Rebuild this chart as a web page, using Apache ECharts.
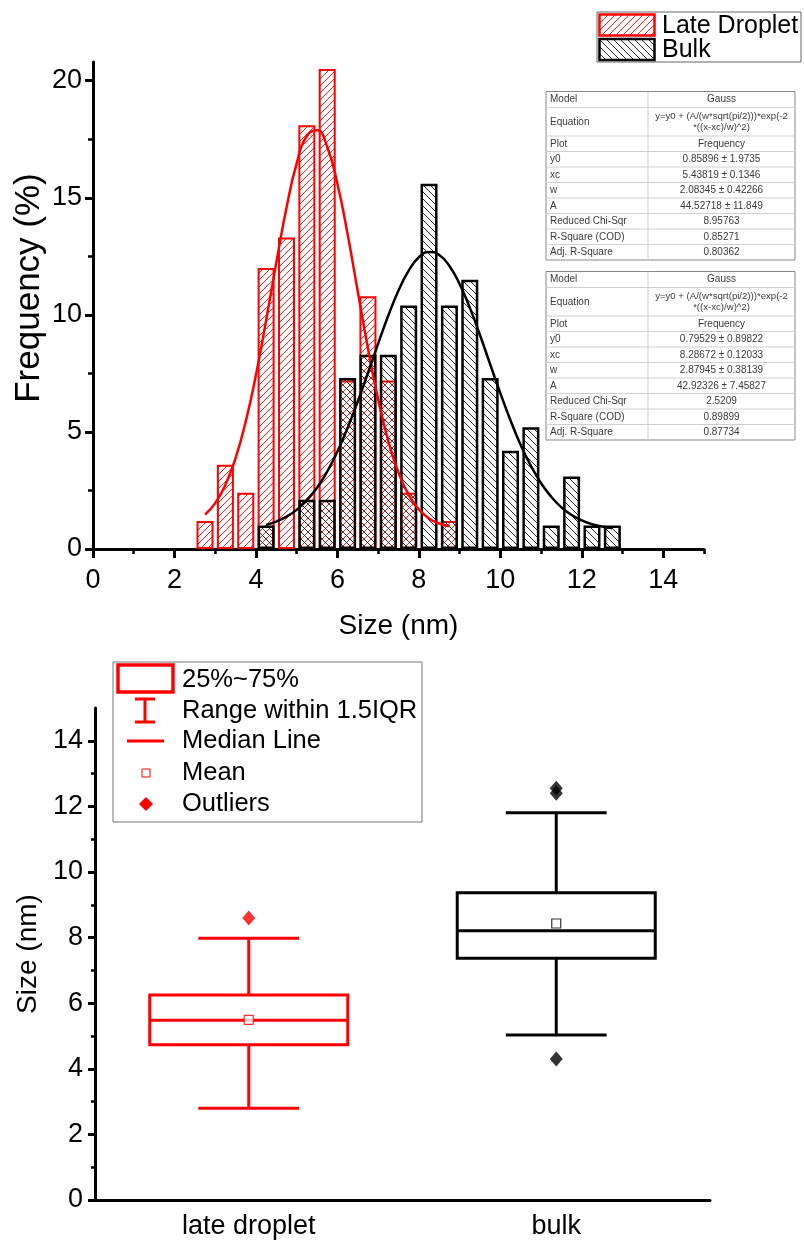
<!DOCTYPE html>
<html>
<head>
<meta charset="utf-8">
<script src="https://cdn.jsdelivr.net/npm/echarts@6/dist/echarts.min.js"></script>
<style>
html,body{margin:0;padding:0;background:#fff;}
#main{width:804px;height:1242px;}
</style>
</head>
<body>
<div id="main"></div>
<script>
// ---------- DATA ----------
const dropletBinCenters = [2.75, 3.25, 3.75, 4.25, 4.75, 5.25, 5.75, 6.25, 6.75, 7.25, 7.75, 8.75];
const dropletFreq       = [1.2, 3.6, 2.4, 12.0, 13.3, 18.1, 20.5, 7.2, 10.8, 7.2, 2.4, 1.2];
const bulkBinCenters = [4.25, 5.25, 5.75, 6.25, 6.75, 7.25, 7.75, 8.25, 8.75, 9.25, 9.75, 10.25, 10.75, 11.25, 11.75, 12.25, 12.75];
const bulkFreq       = [1.0, 2.1, 2.1, 7.3, 8.3, 8.3, 10.4, 15.6, 10.4, 11.5, 7.3, 4.2, 5.2, 1.0, 3.1, 1.0, 1.0];

const dropletFitX = [2.75, 3.0, 3.25, 3.5, 3.75, 4.0, 4.25, 4.5, 4.75, 5.0, 5.25, 5.5, 5.75, 6.0, 6.25, 6.5, 6.75, 7.0, 7.25, 7.5, 7.75, 8.0, 8.25, 8.5, 8.75];
const dropletFitY = [1.47, 1.96, 2.74, 3.88, 5.45, 7.43, 9.76, 12.23, 14.57, 16.47, 17.64, 17.88, 17.17, 15.60, 13.45, 11.00, 8.57, 6.40, 4.61, 3.26, 2.31, 1.69, 1.30, 1.09, 0.97];
const bulkFitX = [4.25, 4.5, 4.75, 5.0, 5.25, 5.5, 5.75, 6.0, 6.25, 6.5, 6.75, 7.0, 7.25, 7.5, 7.75, 8.0, 8.25, 8.5, 8.75, 9.0, 9.25, 9.5, 9.75, 10.0, 10.25, 10.5, 10.75, 11.0, 11.25, 11.5, 11.75, 12.0, 12.25, 12.5, 12.75];
const bulkFitY = [1.03, 1.17, 1.38, 1.67, 2.08, 2.62, 3.31, 4.16, 5.17, 6.30, 7.52, 8.77, 9.97, 11.04, 11.89, 12.46, 12.69, 12.56, 12.09, 11.32, 10.31, 9.14, 7.89, 6.66, 5.49, 4.44, 3.55, 2.81, 2.23, 1.78, 1.45, 1.22, 1.06, 0.96, 0.89];

const histXTicks = [0, 2, 4, 6, 8, 10, 12, 14];
const histXMinor = [1, 3, 5, 7, 9, 11, 13, 15];
const histYTicks = [0, 5, 10, 15, 20];
const histYMinor = [2.5, 7.5, 12.5, 17.5];
const histXName = 'Size (nm)';
const histYName = 'Frequency (%)';

const seriesNames = ['Late Droplet', 'Bulk'];

const fitLabels = ['Model', 'Equation', 'Plot', 'y0', 'xc', 'w', 'A', 'Reduced Chi-Sqr', 'R-Square (COD)', 'Adj. R-Square'];
const fitDroplet = ['Gauss', 'y=y0 + (A/(w*sqrt(pi/2)))*exp(-2\n*((x-xc)/w)^2)', 'Frequency', '0.85896 ± 1.9735', '5.43819 ± 0.1346', '2.08345 ± 0.42266', '44.52718 ± 11.849', '8.95763', '0.85271', '0.80362'];
const fitBulk = ['Gauss', 'y=y0 + (A/(w*sqrt(pi/2)))*exp(-2\n*((x-xc)/w)^2)', 'Frequency', '0.79529 ± 0.89822', '8.28672 ± 0.12033', '2.87945 ± 0.38139', '42.92326 ± 7.45827', '2.5209', '0.89899', '0.87734'];

const boxCategories = ['late droplet', 'bulk'];
const boxWhiskerLow = [2.80, 5.03];
const boxQ1 = [4.73, 7.37];
const boxMedian = [5.48, 8.21];
const boxQ3 = [6.25, 9.37];
const boxWhiskerHigh = [7.98, 11.81];
const boxMean = [5.49, 8.43];
const boxOutliers = [[8.6], [4.3, 12.4, 12.55]];
const boxYTicks = [0, 2, 4, 6, 8, 10, 12, 14];
const boxYMinor = [1, 3, 5, 7, 9, 11, 13];
const boxLegendLabels = ['25%~75%', 'Range within 1.5IQR', 'Median Line', 'Mean', 'Outliers'];

// ---------- STYLE HELPERS ----------
const FONT = "'Liberation Sans', Arial, Helvetica, sans-serif";
const RED = '#ff0000';
const BLACK = '#000000';
const catColors = [RED, BLACK];

function hatch(color, dir, s, lw) {
  const c = document.createElement('canvas');
  c.width = s; c.height = s;
  const ctx = c.getContext('2d');
  ctx.strokeStyle = color; ctx.lineWidth = lw;
  ctx.beginPath();
  if (dir > 0) {
    ctx.moveTo(0, s); ctx.lineTo(s, 0);
    ctx.moveTo(-s / 2, s / 2); ctx.lineTo(s / 2, -s / 2);
    ctx.moveTo(s / 2, s * 1.5); ctx.lineTo(s * 1.5, s / 2);
  } else {
    ctx.moveTo(0, 0); ctx.lineTo(s, s);
    ctx.moveTo(-s / 2, s / 2); ctx.lineTo(s / 2, s * 1.5);
    ctx.moveTo(s / 2, -s / 2); ctx.lineTo(s * 1.5, s / 2);
  }
  ctx.stroke();
  return c;
}
const redPattern = { image: hatch('#ff2020', 1, 7, 1), repeat: 'repeat' };
const blackPattern = { image: hatch('#2a2a2a', -1, 7, 1), repeat: 'repeat' };

// ---------- GRAPHICS (legends, tables, rotated axis title) ----------
const graphics = [];
function txt(x, y, s, size, align, color, z) {
  return { type: 'text', x: x, y: y, z: z || 30, style: { text: s, fontSize: size, fontFamily: FONT, fill: color || '#000', align: align || 'left', verticalAlign: 'middle' } };
}
// histogram y-axis title
const yTitle = txt(29, 288, histYName, 35, 'center', '#000', 30);
yTitle.rotation = Math.PI / 2;
graphics.push(yTitle);

// histogram legend
graphics.push({ type: 'rect', z: 30, shape: { x: 597, y: 12, width: 204, height: 50 }, style: { fill: '#fff', stroke: '#666', lineWidth: 1 } });
graphics.push({ type: 'rect', z: 31, shape: { x: 599.5, y: 14.5, width: 55, height: 21 }, style: { fill: redPattern, stroke: RED, lineWidth: 2.5 } });
graphics.push({ type: 'rect', z: 31, shape: { x: 599.5, y: 39, width: 55, height: 21 }, style: { fill: blackPattern, stroke: BLACK, lineWidth: 2.5 } });
graphics.push(txt(662, 26, seriesNames[0], 25, 'left', '#000', 32));
graphics.push(txt(662, 50, seriesNames[1], 25, 'left', '#000', 32));

// fit tables
function table(top, values) {
  const left = 546, right = 795, mid = 648;
  const heights = [16, 28.5, 15.5, 15.5, 15.5, 15.5, 15.5, 15.5, 15.5, 15.5];
  const total = heights.reduce((a, b) => a + b, 0);
  graphics.push({ type: 'rect', z: 20, shape: { x: left, y: top, width: right - left, height: total }, style: { fill: '#fff', stroke: '#888', lineWidth: 1 } });
  let y = top;
  heights.forEach((h, i) => {
    if (i > 0) graphics.push({ type: 'line', z: 21, shape: { x1: left, y1: y, x2: right, y2: y }, style: { stroke: '#d0d0d0', lineWidth: 1 } });
    graphics.push(txt(left + 4, y + h / 2, fitLabels[i], 10, 'left', '#3a3a3a', 22));
    const t = txt((mid + right) / 2, y + h / 2, values[i], i === 1 ? 9.6 : 10, 'center', '#3a3a3a', 22);
    if (i === 1) t.style.lineHeight = 11;
    graphics.push(t);
    y += h;
  });
  graphics.push({ type: 'line', z: 21, shape: { x1: mid, y1: top, x2: mid, y2: top + total }, style: { stroke: '#d0d0d0', lineWidth: 1 } });
}
table(91.5, fitDroplet);
table(271.5, fitBulk);

// box plot legend
graphics.push({ type: 'rect', z: 30, shape: { x: 113, y: 662, width: 309, height: 160 }, style: { fill: '#fff', stroke: '#777', lineWidth: 1 } });
graphics.push({ type: 'rect', z: 31, shape: { x: 118, y: 665, width: 55, height: 27 }, style: { fill: 'none', stroke: RED, lineWidth: 3.5 } });
graphics.push({ type: 'line', z: 31, shape: { x1: 145, y1: 699, x2: 145, y2: 722 }, style: { stroke: RED, lineWidth: 3 } });
graphics.push({ type: 'line', z: 31, shape: { x1: 135, y1: 699, x2: 155, y2: 699 }, style: { stroke: RED, lineWidth: 3 } });
graphics.push({ type: 'line', z: 31, shape: { x1: 135, y1: 722, x2: 155, y2: 722 }, style: { stroke: RED, lineWidth: 3 } });
graphics.push({ type: 'line', z: 31, shape: { x1: 127, y1: 741, x2: 164, y2: 741 }, style: { stroke: RED, lineWidth: 3 } });
graphics.push({ type: 'rect', z: 31, shape: { x: 142, y: 769, width: 8, height: 8 }, style: { fill: '#fff', stroke: RED, lineWidth: 1 } });
graphics.push({ type: 'polygon', z: 31, shape: { points: [[146, 797], [153, 804], [146, 811], [139, 804]] }, style: { fill: RED } });
[680, 711, 741, 773, 804].forEach((y, i) => graphics.push(txt(182, y, boxLegendLabels[i], 25.5, 'left', '#000', 32)));

// ---------- OPTION ----------
const axisLineStyle = { color: '#000', width: 3 };
const labelStyle = { color: '#000', fontSize: 27, fontFamily: FONT };

const option = {
  backgroundColor: '#fff',
  animation: false,
  grid: [
    { left: 93, top: 62, width: 611, height: 487 },
    { left: 95, top: 708, width: 615, height: 492 }
  ],
  xAxis: [
    { gridIndex: 0, type: 'value', min: 0, max: 15, interval: 1, position: 'bottom',
      axisLine: { lineStyle: axisLineStyle },
      axisTick: { customValues: histXTicks, length: 9, lineStyle: { width: 3, color: '#000' } },
      axisLabel: Object.assign({ customValues: histXTicks, margin: 18 }, labelStyle),
      splitLine: { show: false },
      name: histXName, nameLocation: 'middle', nameGap: 63,
      nameTextStyle: { fontSize: 28, fontFamily: FONT, color: '#000' } },
    { gridIndex: 0, type: 'value', min: 0, max: 15, interval: 1, position: 'bottom',
      axisLine: { show: false },
      axisTick: { customValues: histXMinor, length: 5, lineStyle: { width: 2.5, color: '#000' } },
      axisLabel: { show: false }, splitLine: { show: false } },
    { gridIndex: 1, type: 'category', data: boxCategories, position: 'bottom',
      axisLine: { lineStyle: axisLineStyle },
      axisTick: { alignWithLabel: true, length: 9, lineStyle: { width: 3, color: '#000' } },
      axisLabel: Object.assign({ margin: 13 }, labelStyle),
      splitLine: { show: false } }
  ],
  yAxis: [
    { gridIndex: 0, type: 'value', min: 0, max: 20.8, interval: 5, position: 'left',
      axisLine: { show: true, lineStyle: axisLineStyle },
      axisTick: { show: true, customValues: histYTicks, length: 8, lineStyle: { width: 3, color: '#000' } },
      axisLabel: Object.assign({ customValues: histYTicks, margin: 11 }, labelStyle),
      splitLine: { show: false } },
    { gridIndex: 0, type: 'value', min: 0, max: 20.8, interval: 5, position: 'left',
      axisLine: { show: false },
      axisTick: { show: true, customValues: histYMinor, length: 5, lineStyle: { width: 2.5, color: '#000' } },
      axisLabel: { show: false }, splitLine: { show: false } },
    { gridIndex: 1, type: 'value', min: 0, max: 15, interval: 1, position: 'left',
      axisLine: { show: true, lineStyle: axisLineStyle },
      axisTick: { show: true, customValues: boxYTicks, length: 7, lineStyle: { width: 3, color: '#000' } },
      axisLabel: Object.assign({ customValues: boxYTicks, margin: 12 }, labelStyle),
      splitLine: { show: false },
      name: 'Size (nm)', nameLocation: 'middle', nameGap: 50,
      nameTextStyle: { fontSize: 28, fontFamily: FONT, color: '#000' } },
    { gridIndex: 1, type: 'value', min: 0, max: 15, interval: 1, position: 'left',
      axisLine: { show: false },
      axisTick: { show: true, customValues: boxYMinor, length: 4, lineStyle: { width: 2.5, color: '#000' } },
      axisLabel: { show: false }, splitLine: { show: false } }
  ],
  graphic: { elements: graphics },
  series: [
    { name: seriesNames[0], type: 'bar', xAxisIndex: 0, yAxisIndex: 0, z: 2,
      barWidth: 17, barGap: '-100%',
      data: dropletBinCenters.map((x, i) => [x, dropletFreq[i]]),
      itemStyle: { color: redPattern, borderColor: RED, borderWidth: 2 } },
    { name: seriesNames[1], type: 'bar', xAxisIndex: 0, yAxisIndex: 0, z: 3,
      barWidth: 17, barGap: '-100%',
      data: bulkBinCenters.map((x, i) => [x, bulkFreq[i]]),
      itemStyle: { color: blackPattern, borderColor: BLACK, borderWidth: 2.5 } },
    { name: seriesNames[0] + ' fit', type: 'line', xAxisIndex: 0, yAxisIndex: 0, z: 4,
      smooth: true, showSymbol: false, symbol: 'none',
      data: dropletFitX.map((x, i) => [x, dropletFitY[i]]),
      lineStyle: { color: RED, width: 2.5 } },
    { name: seriesNames[1] + ' fit', type: 'line', xAxisIndex: 0, yAxisIndex: 0, z: 5,
      smooth: true, showSymbol: false, symbol: 'none',
      data: bulkFitX.map((x, i) => [x, bulkFitY[i]]),
      lineStyle: { color: BLACK, width: 2.5 } },
    { name: 'box', type: 'custom', xAxisIndex: 2, yAxisIndex: 2, z: 3,
      data: boxCategories.map((c, i) => [i, boxWhiskerLow[i], boxQ1[i], boxMedian[i], boxQ3[i], boxWhiskerHigh[i]]),
      encode: { x: 0, y: [1, 2, 3, 4, 5] },
      renderItem: function (params, api) {
        const ci = api.value(0);
        const lo = api.coord([ci, api.value(1)]);
        const q1 = api.coord([ci, api.value(2)]);
        const md = api.coord([ci, api.value(3)]);
        const q3 = api.coord([ci, api.value(4)]);
        const hi = api.coord([ci, api.value(5)]);
        const band = api.size([1, 0])[0];
        const half = band * 0.322, cap = band * 0.164;
        const cx = q1[0];
        const st = { stroke: catColors[ci], lineWidth: 3, fill: null };
        return { type: 'group', children: [
          { type: 'line', shape: { x1: cx, y1: q3[1], x2: cx, y2: hi[1] }, style: st },
          { type: 'line', shape: { x1: cx - cap, y1: hi[1], x2: cx + cap, y2: hi[1] }, style: st },
          { type: 'line', shape: { x1: cx, y1: q1[1], x2: cx, y2: lo[1] }, style: st },
          { type: 'line', shape: { x1: cx - cap, y1: lo[1], x2: cx + cap, y2: lo[1] }, style: st },
          { type: 'rect', shape: { x: cx - half, y: q3[1], width: 2 * half, height: q1[1] - q3[1] }, style: { stroke: catColors[ci], lineWidth: 3, fill: 'none' } },
          { type: 'line', shape: { x1: cx - half, y1: md[1], x2: cx + half, y2: md[1] }, style: st }
        ] };
      } },
    { name: 'mean', type: 'scatter', xAxisIndex: 2, yAxisIndex: 2, z: 6,
      symbol: 'rect', symbolSize: 9,
      data: boxCategories.map((c, i) => ({ value: [i, boxMean[i]], itemStyle: { color: '#fff', borderColor: catColors[i], borderWidth: 1.2 } })) },
    { name: 'outliers', type: 'scatter', xAxisIndex: 2, yAxisIndex: 2, z: 6,
      symbol: 'diamond', symbolSize: [13, 15],
      data: [].concat(...boxOutliers.map((arr, i) => arr.map(v => ({ value: [i, v], itemStyle: { color: catColors[i] } })))) }
  ]
};

const chart = echarts.init(document.getElementById('main'));
chart.setOption(option);
</script>
</body>
</html>
